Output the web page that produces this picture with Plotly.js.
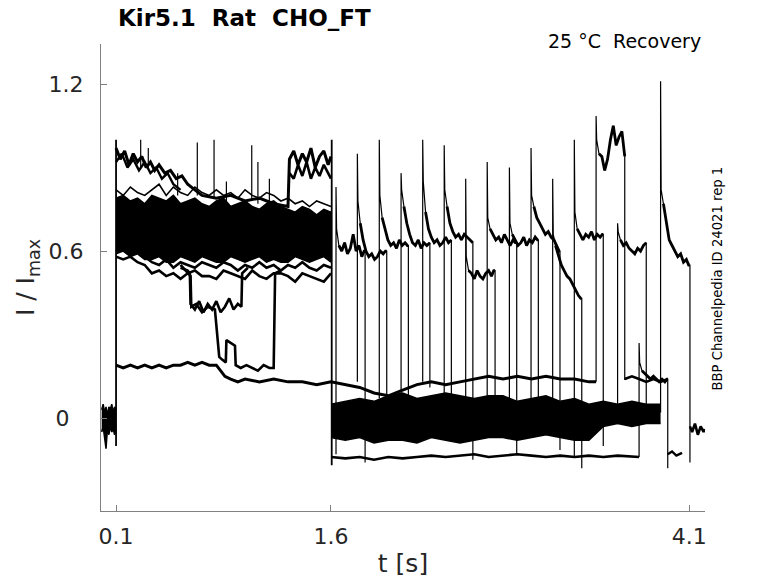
<!DOCTYPE html>
<html>
<head>
<meta charset="utf-8">
<script src="https://cdn.plot.ly/plotly-3.0.1.min.js"></script>
<style>body{margin:0;background:#fff}</style>
</head>
<body>
<div id="chart" style="width:778px;height:583px"></div>
<script>
// values (time in s, current as I / Imax)
const tickT = [0.1, 1.6, 4.1]
const tickI = [0, 0.6, 1.2]
const tickIText = ["0\u00a0\u00a0", "0.6", "1.2"]

// holding, before the first step
const preT  = [0.00, 0.01, 0.02, 0.03, 0.04, 0.05, 0.06, 0.07, 0.08, 0.09, 0.10]
const preHi = [0.03, 0.05, 0.02, 0.04, 0.01, 0.04, 0.03, 0.05, 0.02, 0.04, 0.03]
const preLo = [-0.05, -0.03, -0.07, -0.11, -0.04, -0.06, -0.03, -0.05, -0.04, -0.06, -0.04]

// step edges at 0.1 s and 1.6 s
const stepT  = [0.1, 1.605]
const stepLo = [-0.1, -0.17]
const stepHi = [1.0, 1.0]

// first pulse: dense band of sweeps
const p1T = [0.10, 0.15, 0.20, 0.25, 0.30, 0.35, 0.40, 0.45, 0.50, 0.55, 0.60, 0.65, 0.70, 0.75, 0.80, 0.85,
             0.90, 0.95, 1.00, 1.05, 1.10, 1.15, 1.20, 1.25, 1.30, 1.35, 1.40, 1.45, 1.50, 1.55, 1.60]
const coreHi = [0.79, 0.80, 0.78, 0.79, 0.77, 0.80, 0.79, 0.78, 0.80, 0.77, 0.78, 0.79, 0.77, 0.76, 0.78, 0.79,
                0.76, 0.77, 0.78, 0.76, 0.75, 0.77, 0.78, 0.76, 0.75, 0.74, 0.76, 0.75, 0.73, 0.75, 0.74]
const coreLo = [0.59, 0.60, 0.58, 0.59, 0.57, 0.57, 0.58, 0.56, 0.56, 0.58, 0.57, 0.56, 0.58, 0.57, 0.56, 0.56,
                0.58, 0.57, 0.56, 0.57, 0.58, 0.56, 0.57, 0.56, 0.56, 0.58, 0.57, 0.56, 0.57, 0.58, 0.56]
const edgeHigh = [0.82, 0.80, 0.83, 0.81, 0.80, 0.82, 0.84, 0.80, 0.83, 0.81, 0.80, 0.83, 0.81, 0.80, 0.82, 0.80,
                  0.81, 0.79, 0.82, 0.80, 0.79, 0.81, 0.80, 0.78, 0.79, 0.77, 0.78, 0.76, 0.78, 0.77, 0.76]
const edgeLow1 = [0.58, 0.57, 0.58, 0.56, 0.55, 0.52, 0.53, 0.51, 0.52, 0.50, 0.52, 0.53, 0.51, 0.51, 0.50, 0.53,
                  0.52, 0.51, 0.50, 0.53, 0.51, 0.50, 0.52, 0.52, 0.51, 0.49, 0.52, 0.51, 0.50, 0.49, 0.52]
const edgeLow2 = [0.60, 0.62, 0.59, 0.61, 0.58, 0.56, 0.55, 0.57, 0.54, 0.56, 0.55, 0.54, 0.56, 0.55, 0.54, 0.56,
                  0.55, 0.53, 0.55, 0.54, 0.56, 0.54, 0.55, 0.53, 0.55, 0.54, 0.56, 0.54, 0.53, 0.55, 0.54]

// top sweep, decaying then jumping up at 1.31 s
const topT = [0.10, 0.13, 0.16, 0.19, 0.22, 0.25, 0.28, 0.31, 0.34, 0.37, 0.40, 0.44, 0.48, 0.52, 0.56, 0.60,
              0.65, 0.70, 0.80, 0.90, 1.00, 1.10, 1.20, 1.30, 1.31, 1.34, 1.37, 1.40, 1.43, 1.46, 1.49, 1.52,
              1.55, 1.58, 1.60]
const topI = [0.97, 0.93, 0.96, 0.91, 0.95, 0.92, 0.94, 0.90, 0.92, 0.89, 0.91, 0.88, 0.89, 0.86, 0.87, 0.84,
              0.82, 0.80, 0.79, 0.80, 0.78, 0.79, 0.77, 0.76, 0.93, 0.96, 0.91, 0.95, 0.92, 0.97, 0.90, 0.94,
              0.96, 0.91, 0.94]
const top2T = [0.10, 0.14, 0.18, 0.22, 0.26, 0.30, 0.34, 0.38, 0.42, 0.46, 0.50, 0.55]
const top2I = [0.92, 0.95, 0.90, 0.93, 0.89, 0.92, 0.88, 0.90, 0.86, 0.88, 0.84, 0.82]
const top3T = [1.31, 1.34, 1.37, 1.40, 1.43, 1.46, 1.49, 1.52, 1.55, 1.58, 1.60]
const top3I = [0.88, 0.86, 0.91, 0.87, 0.92, 0.86, 0.90, 0.87, 0.91, 0.88, 0.86]

// spikes on the band top
const spikeT    = [0.272, 0.325, 0.53, 0.667, 0.784, 0.87, 1.047, 1.09, 1.17]
const spikeBase = [0.90, 0.90, 0.80, 0.80, 0.79, 0.78, 0.78, 0.77, 0.77]
const spikeTop  = [1.00, 0.97, 0.88, 0.99, 1.00, 0.85, 0.98, 0.92, 0.86]

// sweeps dropping out of the band
const dipT = [0.55, 0.60, 0.615, 0.62, 0.65, 0.68, 0.71, 0.74, 0.77, 0.80, 0.83, 0.86, 0.89, 0.92, 0.95, 0.975, 0.98, 1.02]
const dipI = [0.54, 0.53, 0.52, 0.41, 0.39, 0.42, 0.38, 0.41, 0.39, 0.42, 0.38, 0.40, 0.43, 0.39, 0.41, 0.40, 0.52, 0.54]
const dip2T = [0.55, 0.60, 0.62, 0.625, 0.66, 0.70, 0.74, 0.79, 0.82, 0.84, 0.866, 0.87, 0.90, 0.93, 0.935,
               0.97, 1.01, 1.05, 1.09, 1.13, 1.17, 1.20, 1.21, 1.25]
const dip2I = [0.55, 0.52, 0.51, 0.40, 0.41, 0.38, 0.40, 0.39, 0.22, 0.21, 0.20, 0.28, 0.27, 0.26, 0.19,
               0.18, 0.19, 0.18, 0.17, 0.19, 0.18, 0.18, 0.52, 0.53]

// the low sweep that runs through both pulses
const lowSweepT = [0.10, 0.15, 0.20, 0.25, 0.30, 0.35, 0.40, 0.45, 0.50, 0.55, 0.60, 0.65, 0.70, 0.75, 0.80, 0.83,
                   0.86, 0.90, 0.95, 1.00, 1.10, 1.20, 1.30, 1.40, 1.50, 1.60, 1.70, 1.80, 1.90, 2.00, 2.10, 2.20,
                   2.30, 2.40, 2.50, 2.60, 2.70, 2.80, 2.90, 3.00, 3.10, 3.20, 3.30, 3.40, 3.45]
const lowSweepI = [0.19, 0.18, 0.19, 0.18, 0.19, 0.18, 0.19, 0.18, 0.19, 0.19, 0.20, 0.19, 0.20, 0.19, 0.19, 0.17,
                   0.15, 0.14, 0.13, 0.14, 0.13, 0.14, 0.13, 0.13, 0.12, 0.13, 0.12, 0.11, 0.09, 0.08, 0.10, 0.12,
                   0.13, 0.12, 0.13, 0.14, 0.15, 0.14, 0.15, 0.14, 0.15, 0.14, 0.14, 0.13, 0.13]
const lateT = [3.65, 3.70, 3.75, 3.80, 3.85, 3.90, 3.95]
const lateI = [0.14, 0.15, 0.14, 0.13, 0.14, 0.13, 0.14]

// holding between pulses: dense band near zero
const gapT  = [1.6, 1.7, 1.8, 1.9, 2.0, 2.1, 2.2, 2.3, 2.4, 2.5, 2.6, 2.7, 2.8, 2.9, 3.0, 3.1, 3.2, 3.3, 3.4, 3.5, 3.6, 3.7, 3.8, 3.9]
const gapHi = [0.05, 0.06, 0.07, 0.06, 0.08, 0.09, 0.07, 0.08, 0.09, 0.08, 0.07, 0.08, 0.08, 0.06, 0.07, 0.08,
               0.06, 0.07, 0.05, 0.06, 0.05, 0.06, 0.05, 0.05]
const gapLo = [-0.07, -0.08, -0.07, -0.09, -0.08, -0.08, -0.09, -0.07, -0.08, -0.09, -0.08, -0.07, -0.07, -0.08,
               -0.07, -0.06, -0.07, -0.08, -0.08, -0.03, -0.02, -0.03, -0.02, -0.02]

// bottom sweep
const bottomT = [1.60, 1.70, 1.80, 1.90, 2.00, 2.10, 2.20, 2.30, 2.40, 2.50, 2.60, 2.70, 2.80, 2.90, 3.00, 3.10,
                 3.20, 3.30, 3.40, 3.50, 3.60, 3.70, 3.75]
const bottomI = [-0.14, -0.145, -0.14, -0.15, -0.14, -0.145, -0.14, -0.135, -0.14, -0.135, -0.13, -0.14, -0.135,
                 -0.13, -0.135, -0.14, -0.135, -0.14, -0.135, -0.14, -0.135, -0.14, -0.14]
const bottom2T = [3.95, 3.98, 4.01, 4.05]
const bottom2I = [-0.13, -0.12, -0.135, -0.125]

// after the last test pulse
const tailT = [4.105, 4.12, 4.14, 4.16, 4.18, 4.20, 4.21]
const tailI = [-0.03, -0.05, -0.02, -0.06, -0.03, -0.05, -0.04]

// recovery test pulses, one per sweep
const pulseStart = [1.635, 1.784, 1.937, 2.089, 2.240, 2.390, 2.540, 2.690, 2.845, 2.996, 3.147, 3.298, 3.450, 3.600, 3.750, 3.900]
const pulseEnd   = [1.838, 1.989, 2.140, 2.290, 2.440, 2.590, 2.745, 2.896, 3.047, 3.198, 3.350, 3.500, 3.650, 3.800, 3.950, 4.105]
const pulseFrom  = [-0.13, 0.13, 0.07, 0.06, 0.13, 0.06, -0.05, 0.00, -0.03, 0.02, 0.04, -0.14, 0.13, 0.05, -0.14, 0.02]
const pulsePeak  = [0.83, 0.95, 1.00, 0.88, 1.00, 0.98, 0.86, 0.92, 0.90, 0.97, 0.86, 1.00, 1.085, 0.70, 0.27, 1.21]
const pulseTo    = [-0.16, -0.08, 0.00, 0.11, 0.00, -0.15, 0.00, -0.13, -0.03, -0.115, -0.18, -0.10, 0.137, 0.02, -0.18, -0.16]
const pulseOffset = [0.004, 0.02, 0.04, 0.06, 0.08, 0.10, 0.12, 0.14, 0.16, 0.18, 0.196]
const pulseLevels = [
    [0.68, 0.62, 0.60, 0.63, 0.59, 0.61, 0.66, 0.60, 0.62, 0.58, 0.60],
    [0.78, 0.70, 0.64, 0.60, 0.58, 0.59, 0.57, 0.58, 0.60, 0.59, 0.60],
    [0.80, 0.72, 0.68, 0.64, 0.62, 0.63, 0.61, 0.64, 0.62, 0.63, 0.62],
    [0.82, 0.76, 0.70, 0.66, 0.63, 0.62, 0.64, 0.61, 0.63, 0.62, 0.63],
    [0.85, 0.74, 0.68, 0.65, 0.63, 0.64, 0.62, 0.63, 0.65, 0.63, 0.64],
    [0.82, 0.76, 0.70, 0.67, 0.65, 0.66, 0.64, 0.66, 0.65, 0.64, 0.63],
    [0.58, 0.53, 0.52, 0.50, 0.53, 0.51, 0.50, 0.52, 0.53, 0.51, 0.53],
    [0.72, 0.68, 0.66, 0.64, 0.65, 0.63, 0.66, 0.64, 0.62, 0.64, 0.63],
    [0.70, 0.66, 0.64, 0.62, 0.63, 0.65, 0.62, 0.64, 0.63, 0.65, 0.64],
    [0.80, 0.76, 0.72, 0.70, 0.68, 0.66, 0.67, 0.65, 0.64, 0.62, 0.60],
    [0.66, 0.62, 0.58, 0.55, 0.53, 0.51, 0.50, 0.48, 0.46, 0.44, 0.43],
    [0.74, 0.68, 0.66, 0.64, 0.66, 0.65, 0.67, 0.64, 0.66, 0.65, 0.66],
    [1.00, 0.95, 0.94, 0.89, 0.93, 1.00, 1.05, 0.98, 1.01, 1.03, 0.94],
    [0.67, 0.64, 0.62, 0.63, 0.61, 0.60, 0.59, 0.61, 0.60, 0.62, 0.63],
    [0.20, 0.17, 0.16, 0.15, 0.14, 0.15, 0.14, 0.13, 0.14, 0.13, 0.14],
    [0.82, 0.77, 0.70, 0.64, 0.62, 0.60, 0.58, 0.59, 0.56, 0.57, 0.55]
]

// ---- traces ----
function lineTrace(x, y, w) {
    return {x: x, y: y, type: "scatter", mode: "lines", hoverinfo: "skip",
            line: {color: "#000", width: w}}
}

function bandTraces(x, lo, hi) {
    return [
        lineTrace(x, lo, 1.5),
        Object.assign(lineTrace(x, hi, 1.5), {fill: "tonexty", fillcolor: "#000"})
    ]
}

function verticalLines(ts, los, his, w) {
    const x = [], y = []
    ts.forEach((t, i) => {
        x.push(t, t, null)
        y.push(los[i], his[i], null)
    })
    return lineTrace(x, y, w)
}

// thin line for the whole sweep, then a wider stroke on the noisy plateau
const pulseTraces = []
pulseStart.forEach((s, k) => {
    const px = pulseOffset.map(o => s + o)
    const lv = pulseLevels[k]
    const x = [s, s].concat(px, [pulseEnd[k], pulseEnd[k]])
    const y = [pulseFrom[k], pulsePeak[k]].concat(lv, [lv[lv.length - 1], pulseTo[k]])
    pulseTraces.push(lineTrace(x, y, 1.2))
    pulseTraces.push(lineTrace(px.slice(1).concat([pulseEnd[k]]), lv.slice(1).concat([lv[lv.length - 1]]), 2.8))
})

const data = [].concat(
    bandTraces(preT, preLo, preHi),
    bandTraces(p1T, coreLo, coreHi),
    bandTraces(gapT, gapLo, gapHi),
    [
        lineTrace(p1T, edgeHigh, 1.6),
        lineTrace(p1T, edgeLow1, 2.6),
        lineTrace(p1T, edgeLow2, 2.6),
        lineTrace(topT, topI, 3),
        lineTrace(top2T, top2I, 2.4),
        lineTrace(top3T, top3I, 2.6),
        lineTrace(dipT, dipI, 2.6),
        lineTrace(dip2T, dip2I, 2.6),
        lineTrace(lowSweepT, lowSweepI, 3),
        lineTrace(lateT, lateI, 2.6),
        lineTrace(bottomT, bottomI, 2.6),
        lineTrace(bottom2T, bottom2I, 2.4),
        lineTrace(tailT, tailI, 2.6),
        verticalLines(spikeT, spikeBase, spikeTop, 1.2),
        verticalLines(stepT, stepLo, stepHi, 1.8)
    ],
    pulseTraces
)

const axisCommon = {
    ticks: "inside",
    ticklen: 6,
    tickcolor: "#808080",
    showline: true,
    linecolor: "#808080",
    linewidth: 1,
    showgrid: false,
    zeroline: false,
    tickfont: {size: 22, color: "#262626"}
}

const layout = {
    width: 778,
    height: 583,
    margin: {l: 101, r: 73, t: 44, b: 72},
    paper_bgcolor: "#fff",
    plot_bgcolor: "#fff",
    showlegend: false,
    font: {family: "DejaVu Sans, sans-serif", color: "#262626"},
    xaxis: Object.assign({}, axisCommon, {
        range: [-0.005, 4.21],
        tickvals: tickT,
        ticktext: tickT.map(String),
        ticklabelstandoff: 6,
        title: {text: "t [s]", font: {size: 25, color: "#262626"}, standoff: 6}
    }),
    yaxis: Object.assign({}, axisCommon, {
        range: [-0.334, 1.344],
        tickvals: tickI,
        ticktext: tickIText,
        ticklabelstandoff: 12,
        title: {text: "I / I<sub>max</sub>", font: {size: 25, color: "#262626"}, standoff: 6}
    }),
    annotations: [
        {
            text: "<b>Kir5.1\u00a0\u00a0Rat\u00a0\u00a0CHO_FT</b>",
            xref: "paper", yref: "paper", x: 0.025, y: 1.056,
            xanchor: "left", yanchor: "middle", showarrow: false,
            font: {size: 23, color: "#000"}
        },
        {
            text: "25 °C\u00a0\u00a0Recovery",
            xref: "paper", yref: "paper", x: 0.997, y: 1.006,
            xanchor: "right", yanchor: "middle", showarrow: false,
            font: {size: 19, color: "#000"}
        },
        {
            text: "BBP Channelpedia ID 24021 rep 1",
            xref: "paper", yref: "paper", x: 1.02, y: 0.498,
            xanchor: "center", yanchor: "middle", textangle: -90, showarrow: false,
            font: {size: 13.2, color: "#000"}
        }
    ]
}

Plotly.newPlot("chart", data, layout, {staticPlot: true, displayModeBar: false})
</script>
</body>
</html>
